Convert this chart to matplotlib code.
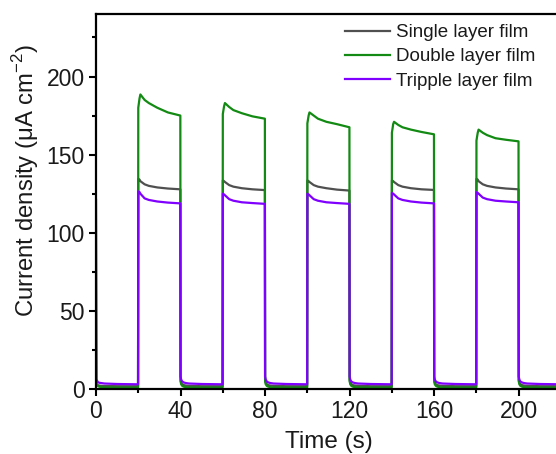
import numpy as np
import matplotlib.pyplot as plt

plt.rcParams['font.family'] = ['Liberation Sans', 'DejaVu Sans']
plt.rcParams['mathtext.fontset'] = 'custom'
plt.rcParams['mathtext.rm'] = 'Liberation Sans'

# ---------------------------------------------------------------------------
# data
# ---------------------------------------------------------------------------
labels = ["Single layer film", "Double layer film", "Tripple layer film"]
colors = ["#505050", "#138a13", "#8000ff"]

light_on = [20, 60, 100, 140, 180]
light_period = 20

# first dark segment, t = 0..20 s
init_t = [0.0, 0.3, 0.8, 1.5, 2.5, 4.0, 10.0, 19.9]
single_init = [5.0, 3.0, 2.5, 2.2, 2.0, 1.9, 1.8, 1.8]
double_init = [6.0, 3.0, 2.0, 1.5, 1.2, 1.0, 0.9, 0.9]
triple_init = [121.0, 6.0, 4.5, 4.0, 3.8, 3.5, 3.2, 3.0]

# light-on samples (seconds after switch-on)
on_t = [0.0, 0.6, 1.0, 3.0, 5.0, 9.0, 14.0, 19.9]
single_on = [
    [134.5, 134, 133, 131, 130, 129, 128.3, 127.8],
    [133.5, 133, 132.5, 130.5, 129.5, 128.5, 127.8, 127.3],
    [133.5, 133, 132.5, 130.5, 129.5, 128.5, 127.6, 127.0],
    [133.5, 133, 132.5, 130.5, 129.5, 128.5, 127.8, 127.4],
    [134.5, 134, 133, 131, 130, 129, 128.3, 127.8],
]
double_on = [
    [180, 186, 188.5, 185, 183, 180, 177, 175],
    [176, 181, 183, 180.5, 178.5, 176.5, 174.5, 173],
    [170, 175, 177, 175, 173, 171, 169.5, 167.5],
    [164, 169.5, 171, 169, 167.5, 166, 164.5, 163],
    [159, 164, 166, 164, 162.5, 160.5, 159.5, 158.5],
]
triple_on = [
    [126.5, 126, 125, 122, 121, 120, 119.3, 118.8],
    [125, 124.5, 124, 121.5, 120.5, 119.5, 119, 118.5],
    [125, 124.5, 124, 121.5, 120.5, 119.5, 119, 118.5],
    [125.5, 125, 124.5, 122, 121, 120, 119.3, 118.8],
    [126, 125.5, 125, 122.5, 121.5, 120.5, 120, 119.5],
]

# light-off samples (seconds after switch-off)
off_t = [0.0, 0.3, 0.8, 1.5, 2.5, 4.0, 10.0, 19.9]
single_off = [6.0, 4.0, 3.0, 2.5, 2.2, 2.0, 1.8, 1.8]
double_off = [5.0, 3.0, 2.0, 1.5, 1.2, 1.0, 0.9, 0.9]
triple_off = [8.0, 6.0, 4.8, 4.2, 3.8, 3.5, 3.2, 3.0]


def build(init, on_vals, off_vals):
    t = list(init_t)
    y = list(init)
    for start, on in zip(light_on, on_vals):
        t += [start + dt for dt in on_t]
        y += on
        t += [start + light_period + dt for dt in off_t]
        y += off_vals
    return np.array(t), np.array(y)


series = [
    build(single_init, single_on, single_off),
    build(double_init, double_on, double_off),
    build(triple_init, triple_on, triple_off),
]

# ---------------------------------------------------------------------------
# plot
# ---------------------------------------------------------------------------
txt = "#1a1a1a"
fig = plt.figure(figsize=(5.56, 4.54), dpi=100)
ax = fig.add_axes([96 / 556, 65 / 454, 465 / 556, 375 / 454])

for (t, y), lab, col in zip(series, labels, colors):
    ax.plot(t, y, color=col, lw=1.6, label=lab)

ax.set_xlim(0, 220)
ax.set_ylim(0, 240)
ax.set_xticks([0, 40, 80, 120, 160, 200])
ax.set_xticks([20, 60, 100, 140, 180, 220], minor=True)
ax.set_yticks([0, 50, 100, 150, 200])
ax.set_yticks([25, 75, 125, 175, 225], minor=True)

ax.tick_params(which="major", direction="out", length=5, width=1.5,
               labelsize=16.5, pad=3, labelcolor=txt)
ax.tick_params(which="minor", direction="out", length=3, width=1.5)
for sp in ax.spines.values():
    sp.set_linewidth(1.6)

ax.set_xlabel("Time (s)", fontsize=17.5, labelpad=6, color=txt)
ax.set_ylabel("Current density ($\\mathrm{\\mu}$A cm$^{-2}$)", fontsize=17.2,
              color=txt)
ax.yaxis.set_label_coords(-0.118, 0.555)

ax.legend(loc="upper right", bbox_to_anchor=(535 / 556, 1 - 24 / 454),
          bbox_transform=fig.transFigure, frameon=False, fontsize=13.5,
          handlelength=2.4, handletextpad=0.32, labelspacing=0.38,
          borderpad=0, borderaxespad=0, labelcolor=txt)

fig.savefig("out.png", dpi=100)
